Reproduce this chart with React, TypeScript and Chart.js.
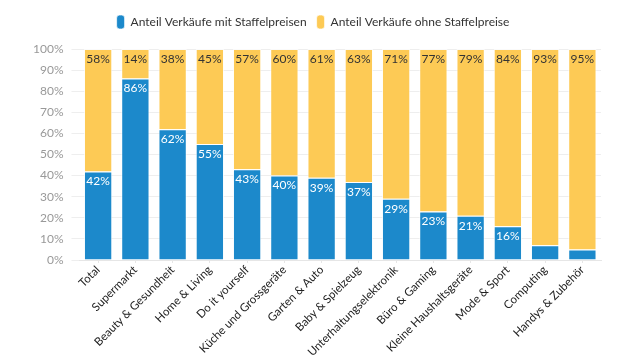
import React, { useEffect, useRef } from "react";
import { Chart, registerables } from "chart.js";

Chart.register(...registerables);

const categories = [
  "Total",
  "Supermarkt",
  "Beauty & Gesundheit",
  "Home & Living",
  "Do it yourself",
  "Küche und Grossgeräte",
  "Garten & Auto",
  "Baby & Spielzeug",
  "Unterhaltungselektronik",
  "Büro & Gaming",
  "Kleine Haushaltsgeräte",
  "Mode & Sport",
  "Computing",
  "Handys & Zubehör",
];
const withTiers = [42, 86, 62, 55, 43, 40, 39, 37, 29, 23, 21, 16, 7, 5];
const withoutTiers = [58, 14, 38, 45, 57, 60, 61, 63, 71, 77, 79, 84, 93, 95];
const seriesNames = ["Anteil Verkäufe mit Staffelpreisen", "Anteil Verkäufe ohne Staffelpreise"];

const FONT = "Lato, 'Open Sans', sans-serif";

const labelPlugin = {
  id: "barLabels",
  afterDatasetsDraw(chart: any) {
    const ctx = chart.ctx;
    ctx.save();
    ctx.font = `12px ${FONT}`;
    ctx.textAlign = "center";
    ctx.textBaseline = "middle";
    chart.data.datasets.forEach((ds: any, di: number) => {
      const meta = chart.getDatasetMeta(di);
      meta.data.forEach((bar: any, i: number) => {
        const v = ds.data[i];
        if (v < 10) return;
        ctx.fillStyle = di === 0 ? "#ffffff" : "#333333";
        ctx.fillText(v + "%", bar.x, bar.y + 10);
      });
    });
    ctx.restore();
  },
};

const legendSpacer = {
  id: "legendSpacer",
  beforeLayout(chart: any) {
    const lg = chart.legend;
    if (lg && !lg._spaced) {
      const orig = lg.fit;
      lg.fit = function () {
        orig.call(this);
        this.height += 10;
      };
      lg._spaced = true;
    }
  },
};

export default function App() {
  const ref = useRef<HTMLCanvasElement>(null);
  useEffect(() => {
    const chart = new Chart(ref.current!, {
      type: "bar",
      data: {
        labels: categories,
        datasets: [
          {
            label: seriesNames[0],
            data: withTiers,
            backgroundColor: "#1c89cb",
            borderColor: "rgba(255,255,255,0.7)",
            borderWidth: 1,
            barPercentage: 0.8,
            categoryPercentage: 0.95,
          },
          {
            label: seriesNames[1],
            data: withoutTiers,
            backgroundColor: "#fdca55",
            borderColor: "rgba(255,255,255,0.7)",
            borderWidth: 1,
            barPercentage: 0.8,
            categoryPercentage: 0.95,
          },
        ],
      },
      options: {
        animation: false,
        responsive: false,
        layout: { padding: { left: 25, right: 39, top: 5, bottom: 0 } },
        plugins: {
          legend: {
            position: "top",
            labels: {
              font: { family: FONT, size: 12 },
              color: "#333",
              boxWidth: 8,
              boxHeight: 14,
              useBorderRadius: true,
              borderRadius: 3,
              padding: 10,
            },
          },
          tooltip: { enabled: false },
        },
        scales: {
          x: {
            stacked: true,
            grid: {
              display: true,
              drawOnChartArea: false,
              drawTicks: true,
              tickLength: 3,
              offset: false,
              color: "#e6e6e6",
            },
            border: { color: "#e6e6e6" },
            afterFit: (s: any) => {
              s.height = 104;
            },
            ticks: {
              color: "#222",
              padding: 0,
              font: { family: FONT, size: 11.5 },
              maxRotation: 45,
              minRotation: 45,
              autoSkip: false,
            },
          },
          y: {
            stacked: true,
            min: 0,
            max: 100,
            grid: { color: "#eeeeee" },
            border: { display: false },
            ticks: {
              stepSize: 10,
              padding: 8,
              color: "#999",
              font: { family: FONT, size: 12 },
              callback: (v: any) => v + "%",
            },
          },
        },
      },
      plugins: [labelPlugin, legendSpacer],
    });
    return () => chart.destroy();
  }, []);
  return (
    <div style={{ position: "fixed", left: 0, top: 0, width: 640, height: 364, background: "#fff" }}>
      <canvas ref={ref} width={640} height={364} />
    </div>
  );
}
